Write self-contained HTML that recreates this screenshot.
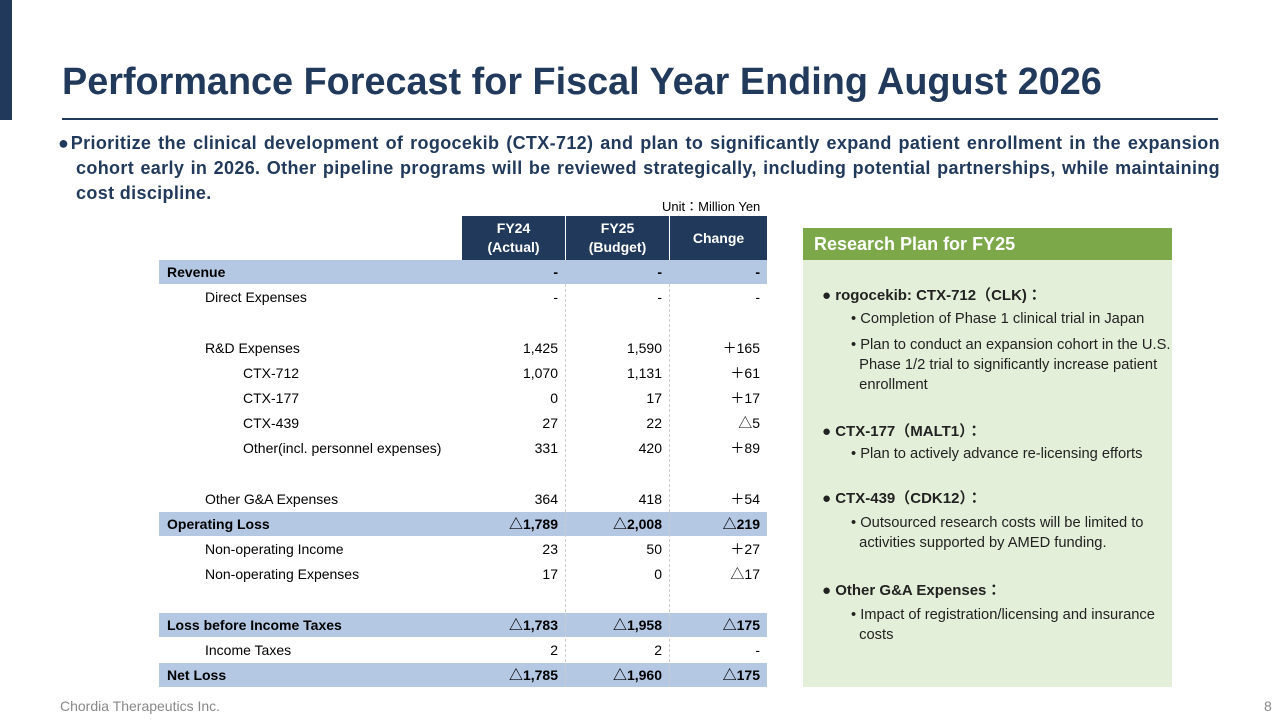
<!DOCTYPE html>
<html><head><meta charset="utf-8"><style>
*{margin:0;padding:0;box-sizing:border-box}
body{width:1280px;height:720px;background:#fff;position:relative;overflow:hidden;font-family:"Liberation Sans","Noto Sans CJK JP",sans-serif;color:#000}
.a{position:absolute;white-space:nowrap}
.cell{position:absolute;font-size:14px;line-height:25px;height:25px}
.r{text-align:right}
.pl{position:absolute;font-size:14.7px;color:#222;white-space:nowrap}
.ph{position:absolute;font-size:15px;font-weight:bold;color:#222;white-space:nowrap}
</style></head><body>
<div class="a" style="left:0;top:0;width:12px;height:120px;background:#213a5c"></div>
<div class="a" style="left:62px;top:59px;font-size:37.8px;font-weight:bold;color:#213a5c;line-height:46px">Performance Forecast for Fiscal Year Ending August 2026</div>
<div class="a" style="left:62px;top:118px;width:1156px;height:2px;background:#213a5c"></div>
<div class="a" style="left:58px;top:131px;width:1162px;white-space:normal;font-size:18px;letter-spacing:0.35px;font-weight:bold;color:#213a5c;line-height:25px;text-align:justify;text-align-last:left;padding-left:18px;text-indent:-18px">●Prioritize the clinical development of rogocekib (CTX-712) and plan to significantly expand patient enrollment in the expansion cohort early in 2026. Other pipeline programs will be reviewed strategically, including potential partnerships, while maintaining cost discipline.</div>
<div class="a" style="left:662px;top:196px;font-size:13px">Unit：Million Yen</div>
<div id="tbl"></div>
<div class="a" style="left:803px;top:228px;width:369px;height:32px;background:#7ca84a;color:#fff;font-size:18px;font-weight:bold;line-height:33px;padding-left:11px">Research Plan for FY25</div>
<div class="a" style="left:803px;top:260px;width:369px;height:427px;background:#e4efd9"></div>
<div class="ph" style="left:822px;top:284px">● rogocekib: CTX-712（CLK)：</div>
<div class="pl" style="left:851px;top:311px">• Completion of Phase 1 clinical trial in Japan</div>
<div class="pl" style="left:851px;top:335px;line-height:20px">• Plan to conduct an expansion cohort in the U.S.<br>&nbsp;&nbsp;Phase 1/2 trial to significantly increase patient<br>&nbsp;&nbsp;enrollment</div>
<div class="ph" style="left:822px;top:420px">● CTX-177（MALT1）：</div>
<div class="pl" style="left:851px;top:446px">• Plan to actively advance re-licensing efforts</div>
<div class="ph" style="left:822px;top:487px">● CTX-439（CDK12）：</div>
<div class="pl" style="left:851px;top:513px;line-height:20px">• Outsourced research costs will be limited to<br>&nbsp;&nbsp;activities supported by AMED funding.</div>
<div class="ph" style="left:822px;top:579px">● Other G&amp;A Expenses：</div>
<div class="pl" style="left:851px;top:605px;line-height:20px">• Impact of registration/licensing and insurance<br>&nbsp;&nbsp;costs</div>
<div class="a" style="left:60px;top:698px;font-size:14px;color:#888">Chordia Therapeutics Inc.</div>
<div class="a" style="left:1264px;top:698px;font-size:14px;color:#888">8</div>
<script>
const labels=["Revenue","Direct Expenses","","R&D Expenses","CTX-712","CTX-177","CTX-439","Other(incl. personnel expenses)","","Other G&A Expenses","Operating Loss","Non-operating Income","Non-operating Expenses","","Loss before Income Taxes","Income Taxes","Net Loss"];
const indent=[0,1,1,1,2,2,2,2,1,1,0,1,1,1,0,1,0];
const bold=[1,0,0,0,0,0,0,0,0,0,1,0,0,0,1,0,1];
const fy24=["-","-","","1,425","1,070","0","27","331","","364","△1,789","23","17","","△1,783","2","△1,785"];
const fy25=["-","-","","1,590","1,131","17","22","420","","418","△2,008","50","0","","△1,958","2","△1,960"];
const chg=["-","-","","＋165","＋61","＋17","△5","＋89","","＋54","△219","＋27","△17","","△175","-","△175"];
const T=document.getElementById('tbl');
function add(html,style,cls){const d=document.createElement('div');d.className=cls||'cell';d.style.cssText=style;d.textContent=html;T.appendChild(d);return d;}
const hs=[["FY24","(Actual)",462],["FY25","(Budget)",566],["Change","",670]];
hs.forEach((h,i)=>{const d=add('',`left:${h[2]}px;top:216px;width:${i<2?103:97}px;height:44px;background:#213a5c;color:#fff;font-weight:bold;text-align:center;line-height:19px;padding-top:${h[1]?3:13}px`);d.innerHTML=h[0]+(h[1]?'<br>'+h[1]:'');

});
const rowH=25.2;
labels.forEach((l,i)=>{const top=260+i*rowH;
 if(bold[i]){const b=add('',`left:159px;top:${top}px;width:608px;height:24px;background:#b4c7e3`);
 
 }
 const fw=bold[i]?'bold':'normal';
 const x=[167,205,243][indent[i]];
 const a=add(l,`left:${x}px;top:${top}px;font-weight:${fw}`);
 
 
 const b=add(fy24[i],`left:462px;top:${top}px;width:96px;font-weight:${fw}`,'cell r');
 
 
 const c=add(fy25[i],`left:566px;top:${top}px;width:96px;font-weight:${fw}`,'cell r');
 
 
 const e=add(chg[i],`left:670px;top:${top}px;width:90px;font-weight:${fw}`,'cell r');
 
 
});
[565,669].forEach(x=>{const v=add('',`left:${x}px;top:284px;width:0;height:403px;border-left:1px dashed #ccc`);

});
</script>
</body></html>
